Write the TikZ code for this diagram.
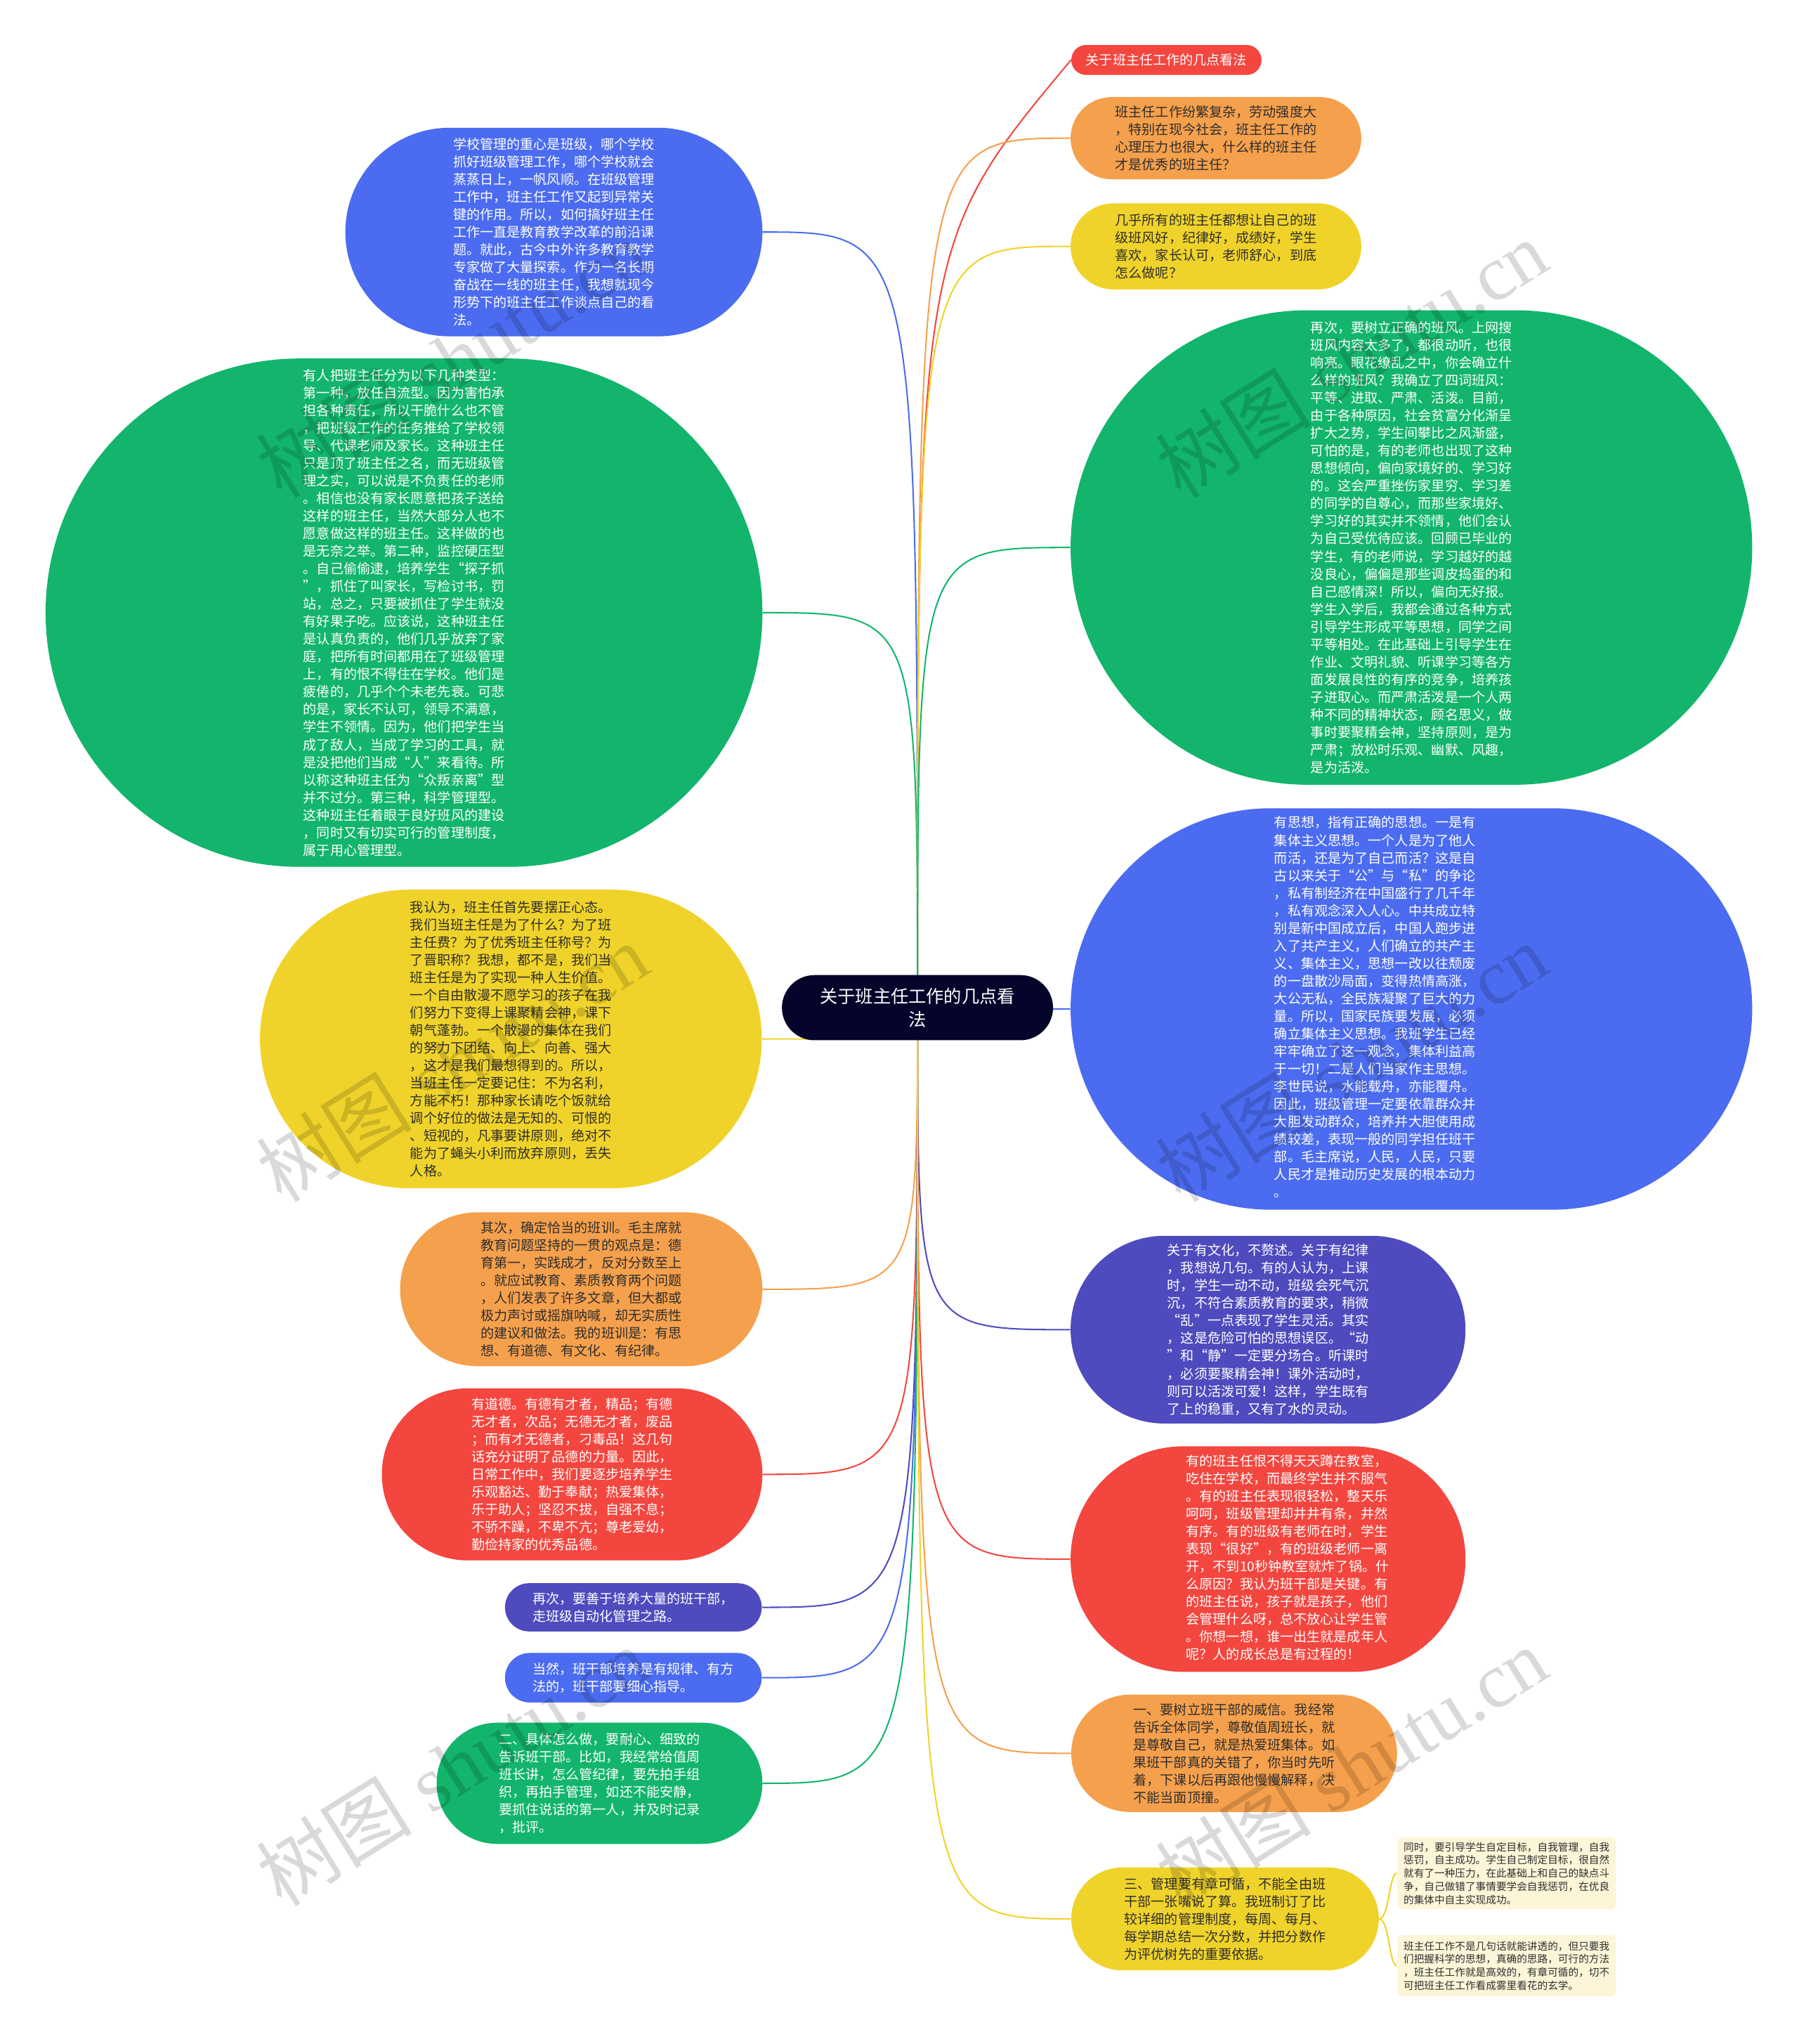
\documentclass[tikz,border=0pt]{standalone}
\usepackage{fontspec}
\newfontfamily\cjk{Noto Sans CJK SC}
\newfontfamily\wmfont{Liberation Serif}
\usetikzlibrary{backgrounds}

\definecolor{royal}{HTML}{4B6CF0}
\definecolor{grass}{HTML}{12B56B}
\definecolor{lemon}{HTML}{F0D32A}
\definecolor{apricot}{HTML}{F5A04C}
\definecolor{tomato}{HTML}{F3463F}
\definecolor{indigo}{HTML}{4E4BBE}
\definecolor{navy}{HTML}{05052B}
\definecolor{cream}{HTML}{FCF5D8}
\definecolor{ink}{HTML}{2E2E2E}

% curved link from the root to one topic
\newcommand\branch[2]{%
  \draw[#1, line width=1.1pt] (root.center) .. controls (root.center |- #2) .. (#2);}

\begin{document}
\begin{tikzpicture}[
        x=1pt, y=-1pt,
        every node/.style={align=left, inner sep=0pt, font=\cjk\fontsize{10.3}{13.5}\selectfont},
        pill/.style 2 args={minimum width=#1pt, minimum height=#2pt, rounded corners=#2pt/2},
        light/.style={text=white},
        dark/.style={text=ink},
        note/.style={fill=cream, text=ink, rounded corners=4pt, font=\cjk\fontsize{7.9}{10.1}\selectfont},
        wmark/.style={text=black, text opacity=0.15, rotate=32, font=\wmfont\fontsize{60}{60}\selectfont}
    ]
    \useasboundingbox (0,0) rectangle (1380,1568);

    \node[fill=navy, light, align=center, pill={208}{50}, font=\cjk\fontsize{13.6}{18}\selectfont] (root) at (704,773)
        {关于班主任工作的几点看\\法};

    % left side
    \node[fill=royal, light, pill={320}{160}] (lblue) at (425,178) {%
        学校管理的重心是班级，哪个学校\\
        抓好班级管理工作，哪个学校就会\\
        蒸蒸日上，一帆风顺。在班级管理\\
        工作中，班主任工作又起到异常关\\
        键的作用。所以，如何搞好班主任\\
        工作一直是教育教学改革的前沿课\\
        题。就此，古今中外许多教育教学\\
        专家做了大量探索。作为一名长期\\
        奋战在一线的班主任，我想就现今\\
        形势下的班主任工作谈点自己的看\\
        法。};
    \node[fill=grass, light, pill={550}{390}] (lgreen) at (310,470) {%
        有人把班主任分为以下几种类型：\\
        第一种，放任自流型。因为害怕承\\
        担各种责任，所以干脆什么也不管\\
        ，把班级工作的任务推给了学校领\\
        导、代课老师及家长。这种班主任\\
        只是顶了班主任之名，而无班级管\\
        理之实，可以说是不负责任的老师\\
        。相信也没有家长愿意把孩子送给\\
        这样的班主任，当然大部分人也不\\
        愿意做这样的班主任。这样做的也\\
        是无奈之举。第二种，监控硬压型\\
        。自己偷偷逮，培养学生“探子抓\\
        ”，抓住了叫家长，写检讨书，罚\\
        站，总之，只要被抓住了学生就没\\
        有好果子吃。应该说，这种班主任\\
        是认真负责的，他们几乎放弃了家\\
        庭，把所有时间都用在了班级管理\\
        上，有的恨不得住在学校。他们是\\
        疲倦的，几乎个个未老先衰。可悲\\
        的是，家长不认可，领导不满意，\\
        学生不领情。因为，他们把学生当\\
        成了敌人，当成了学习的工具，就\\
        是没把他们当成“人”来看待。所\\
        以称这种班主任为“众叛亲离”型\\
        并不过分。第三种，科学管理型。\\
        这种班主任着眼于良好班风的建设\\
        ，同时又有切实可行的管理制度，\\
        属于用心管理型。};
    \node[fill=lemon, dark, pill={385}{229}] (lyellow) at (392,797) {%
        我认为，班主任首先要摆正心态。\\
        我们当班主任是为了什么？为了班\\
        主任费？为了优秀班主任称号？为\\
        了晋职称？我想，都不是，我们当\\
        班主任是为了实现一种人生价值。\\
        一个自由散漫不愿学习的孩子在我\\
        们努力下变得上课聚精会神，课下\\
        朝气蓬勃。一个散漫的集体在我们\\
        的努力下团结、向上、向善、强大\\
        ，这才是我们最想得到的。所以，\\
        当班主任一定要记住：不为名利，\\
        方能不朽！那种家长请吃个饭就给\\
        调个好位的做法是无知的、可恨的\\
        、短视的，凡事要讲原则，绝对不\\
        能为了蝇头小利而放弃原则，丢失\\
        人格。};
    \node[fill=apricot, dark, pill={278}{118}] (lorange) at (446,989) {%
        其次，确定恰当的班训。毛主席就\\
        教育问题坚持的一贯的观点是：德\\
        育第一，实践成才，反对分数至上\\
        。就应试教育、素质教育两个问题\\
        ，人们发表了许多文章，但大都或\\
        极力声讨或摇旗呐喊，却无实质性\\
        的建议和做法。我的班训是：有思\\
        想、有道德、有文化、有纪律。};
    \node[fill=tomato, light, pill={292}{132}] (lred) at (439,1131) {%
        有道德。有德有才者，精品；有德\\
        无才者，次品；无德无才者，废品\\
        ；而有才无德者，刁毒品！这几句\\
        话充分证明了品德的力量。因此，\\
        日常工作中，我们要逐步培养学生\\
        乐观豁达、勤于奉献；热爱集体，\\
        乐于助人；坚忍不拔，自强不息；\\
        不骄不躁，不卑不亢；尊老爱幼，\\
        勤俭持家的优秀品德。};
    \node[fill=indigo, light, pill={197}{37}] (lindigo) at (486,1233) {%
        再次，要善于培养大量的班干部，\\
        走班级自动化管理之路。};
    \node[fill=royal, light, pill={197}{38}] (lblue2) at (486,1287) {%
        当然，班干部培养是有规律、有方\\
        法的，班干部要细心指导。};
    \node[fill=grass, light, pill={250}{93}] (lgreen2) at (460,1368) {%
        二、具体怎么做，要耐心、细致的\\
        告诉班干部。比如，我经常给值周\\
        班长讲，怎么管纪律，要先拍手组\\
        织，再拍手管理，如还不能安静，\\
        要抓住说话的第一人，并及时记录\\
        ，批评。};

    % right side
    \node[fill=tomato, light, pill={146}{23}] (rtitle) at (895,46) {关于班主任工作的几点看法};
    \node[fill=apricot, dark, pill={223}{63}] (rorange) at (933,106) {%
        班主任工作纷繁复杂，劳动强度大\\
        ，特别在现今社会，班主任工作的\\
        心理压力也很大，什么样的班主任\\
        才是优秀的班主任？};
    \node[fill=lemon, dark, pill={223}{66}] (ryellow) at (933,189) {%
        几乎所有的班主任都想让自己的班\\
        级班风好，纪律好，成绩好，学生\\
        喜欢，家长认可，老师舒心，到底\\
        怎么做呢？};
    \node[fill=grass, light, pill={523}{364}] (rgreen) at (1083,420) {%
        再次，要树立正确的班风。上网搜\\
        班风内容太多了，都很动听，也很\\
        响亮。眼花缭乱之中，你会确立什\\
        么样的班风？我确立了四词班风：\\
        平等、进取、严肃、活泼。目前，\\
        由于各种原因，社会贫富分化渐呈\\
        扩大之势，学生间攀比之风渐盛，\\
        可怕的是，有的老师也出现了这种\\
        思想倾向，偏向家境好的、学习好\\
        的。这会严重挫伤家里穷、学习差\\
        的同学的自尊心，而那些家境好、\\
        学习好的其实并不领情，他们会认\\
        为自己受优待应该。回顾已毕业的\\
        学生，有的老师说，学习越好的越\\
        没良心，偏偏是那些调皮捣蛋的和\\
        自己感情深！所以，偏向无好报。\\
        学生入学后，我都会通过各种方式\\
        引导学生形成平等思想，同学之间\\
        平等相处。在此基础上引导学生在\\
        作业、文明礼貌、听课学习等各方\\
        面发展良性的有序的竞争，培养孩\\
        子进取心。而严肃活泼是一个人两\\
        种不同的精神状态，顾名思义，做\\
        事时要聚精会神，坚持原则，是为\\
        严肃；放松时乐观、幽默、风趣，\\
        是为活泼。};
    % text sits a little left of the middle here
    \node[fill=royal, light, pill={523}{308}] (rblue) at (1083,774) {%
        \begin{tabular}{@{}l@{\hspace{56pt}}}
        有思想，指有正确的思想。一是有\\
        集体主义思想。一个人是为了他人\\
        而活，还是为了自己而活？这是自\\
        古以来关于“公”与“私”的争论\\
        ，私有制经济在中国盛行了几千年\\
        ，私有观念深入人心。中共成立特\\
        别是新中国成立后，中国人跑步进\\
        入了共产主义，人们确立的共产主\\
        义、集体主义，思想一改以往颓废\\
        的一盘散沙局面，变得热情高涨，\\
        大公无私，全民族凝聚了巨大的力\\
        量。所以，国家民族要发展，必须\\
        确立集体主义思想。我班学生已经\\
        牢牢确立了这一观念，集体利益高\\
        于一切！二是人们当家作主思想。\\
        李世民说，水能载舟，亦能覆舟。\\
        因此，班级管理一定要依靠群众并\\
        大胆发动群众，培养并大胆使用成\\
        绩较差，表现一般的同学担任班干\\
        部。毛主席说，人民，人民，只要\\
        人民才是推动历史发展的根本动力\\
        。
        \end{tabular}};
    \node[fill=indigo, light, pill={303}{144}] (rindigo) at (973,1020) {%
        关于有文化，不赘述。关于有纪律\\
        ，我想说几句。有的人认为，上课\\
        时，学生一动不动，班级会死气沉\\
        沉，不符合素质教育的要求，稍微\\
        “乱”一点表现了学生灵活。其实\\
        ，这是危险可怕的思想误区。“动\\
        ”和“静”一定要分场合。听课时\\
        ，必须要聚精会神！课外活动时，\\
        则可以活泼可爱！这样，学生既有\\
        了上的稳重，又有了水的灵动。};
    % and a little right of it here
    \node[fill=tomato, light, pill={303}{173}] (rred) at (973,1196) {%
        \begin{tabular}{@{\hspace{30pt}}l@{}}
        有的班主任恨不得天天蹲在教室，\\
        吃住在学校，而最终学生并不服气\\
        。有的班主任表现很轻松，整天乐\\
        呵呵，班级管理却井井有条，井然\\
        有序。有的班级有老师在时，学生\\
        表现“很好”，有的班级老师一离\\
        开，不到10秒钟教室就炸了锅。什\\
        么原因？我认为班干部是关键。有\\
        的班主任说，孩子就是孩子，他们\\
        会管理什么呀，总不放心让学生管\\
        。你想一想，谁一出生就是成年人\\
        呢？人的成长总是有过程的！
        \end{tabular}};
    \node[fill=apricot, dark, pill={250}{90}] (rorange2) at (947,1345) {%
        一、要树立班干部的威信。我经常\\
        告诉全体同学，尊敬值周班长，就\\
        是尊敬自己，就是热爱班集体。如\\
        果班干部真的关错了，你当时先听\\
        着，下课以后再跟他慢慢解释，决\\
        不能当面顶撞。};
    \node[fill=lemon, dark, pill={236}{79}] (ryellow2) at (940,1472) {%
        三、管理要有章可循，不能全由班\\
        干部一张嘴说了算。我班制订了比\\
        较详细的管理制度，每周、每月、\\
        每学期总结一次分数，并把分数作\\
        为评优树先的重要依据。};
    \node[note, minimum width=168pt, minimum height=55pt] (note1) at (1156,1437) {%
        同时，要引导学生自定目标，自我管理，自我\\
        惩罚，自主成功。学生自己制定目标，很自然\\
        就有了一种压力，在此基础上和自己的缺点斗\\
        争，自己做错了事情要学会自我惩罚，在优良\\
        的集体中自主实现成功。};
    \node[note, minimum width=168pt, minimum height=47pt] (note2) at (1156,1508) {%
        班主任工作不是几句话就能讲透的，但只要我\\
        们把握科学的思想，真确的思路，可行的方法\\
        ，班主任工作就是高效的，有章可循的，切不\\
        可把班主任工作看成雾里看花的玄学。};

    \begin{scope}[on background layer]
        \branch{royal}{lblue.east}
        \branch{grass}{lgreen.east}
        \branch{lemon}{lyellow.east}
        \branch{apricot}{lorange.east}
        \branch{tomato}{lred.east}
        \branch{indigo}{lindigo.east}
        \branch{royal}{lblue2.east}
        \branch{grass}{lgreen2.east}
        \draw[tomato, line width=1.1pt] (root.center) .. controls ([yshift=-141pt]root.center |- rtitle.west) .. (rtitle.west);
        \branch{apricot}{rorange.west}
        \branch{lemon}{ryellow.west}
        \branch{grass}{rgreen.west}
        \branch{royal}{rblue.west}
        \branch{indigo}{rindigo.west}
        \branch{tomato}{rred.west}
        \branch{apricot}{rorange2.west}
        \branch{lemon}{ryellow2.west}
        \draw[lemon, line width=1.1pt] (ryellow2.east) .. controls +(8,0) and +(-6,0) .. (note1.west);
        \draw[lemon, line width=1.1pt] (ryellow2.east) .. controls +(8,0) and +(-6,0) .. (note2.west);
    \end{scope}

    % watermarks
    \foreach \wx in {347,1037}
        \foreach \wy in {275,815,1355}
            \node[wmark] at (\wx,\wy) {{\cjk 树图} shutu.cn};
\end{tikzpicture}
\end{document}
